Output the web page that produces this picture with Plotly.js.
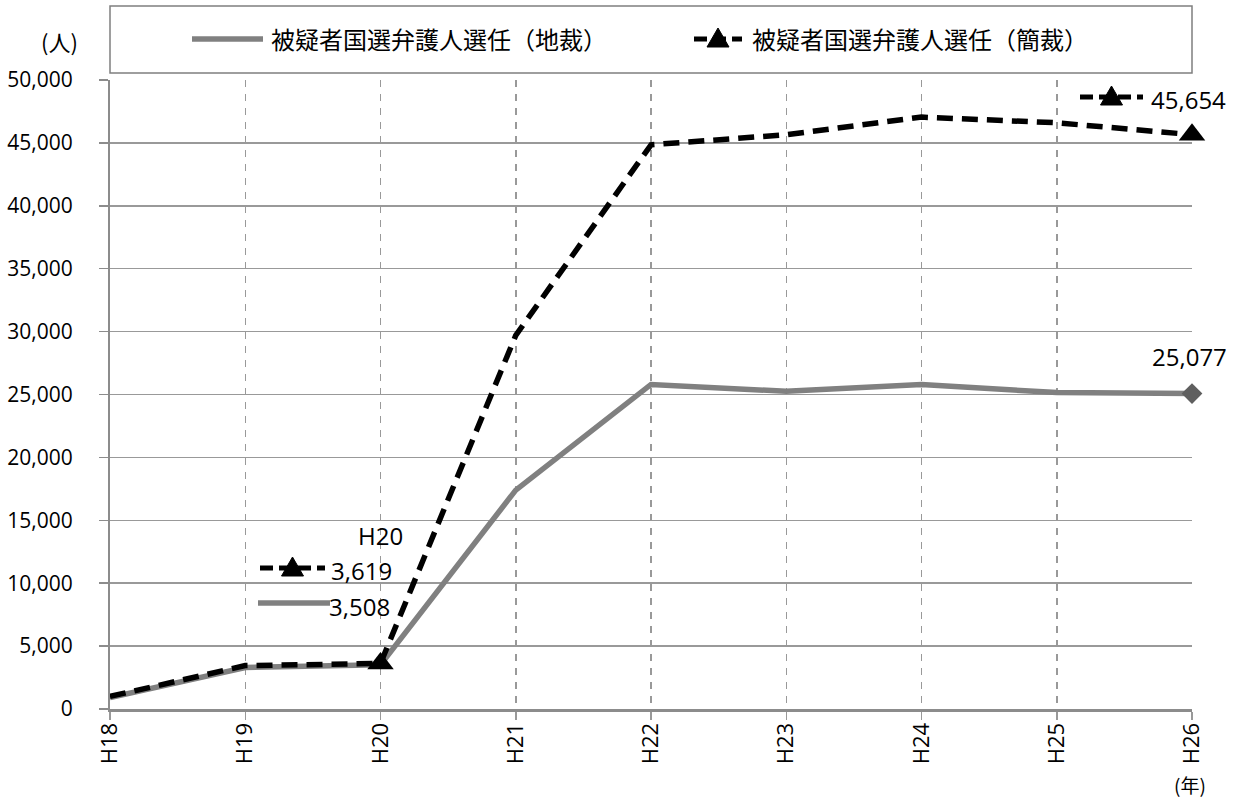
<!DOCTYPE html>
<html>
<head>
<meta charset="utf-8">
<script src="https://cdn.plot.ly/plotly-3.0.1.min.js"></script>
<style>html,body{margin:0;padding:0;background:#fff;}#chart{width:1240px;height:800px;}</style>
</head>
<body>
<div id="chart"></div>
<script>
// ---- data ----
const years = ['H18','H19','H20','H21','H22','H23','H24','H25','H26'];
const districtName = '被疑者国選弁護人選任（地裁）';
const summaryName = '被疑者国選弁護人選任（簡裁）';
const districtValues = [900, 3300, 3508, 17400, 25800, 25250, 25800, 25150, 25077];
const summaryValues = [1000, 3450, 3619, 29700, 44850, 45650, 47050, 46600, 45654];
const yTickValues = [0, 5000, 10000, 15000, 20000, 25000, 30000, 35000, 40000, 45000, 50000];
const yUnit = '(人)';
const xUnit = '(年)';

// ---- layout geometry ----
const W = 1240, H = 800;
const M = {l: 110, r: 48, t: 80, b: 91};
const PW = W - M.l - M.r, PH = H - M.t - M.b;
const px = v => (v - M.l) / PW;          // pixel x -> paper
const py = v => (H - M.b - v) / PH;      // pixel y -> paper

const fmt = v => v.toLocaleString('en-US');
const last = years.length - 1;
const h20 = years.indexOf('H20');
const districtMarked = [last];
const summaryMarked = [h20, last];

const GRAY = '#808080', BLACK = '#000000';
const numFont = {family: 'Open Sans, Noto Sans CJK JP, sans-serif', size: 21, color: '#000'};
const labelFont = {family: 'Open Sans, Noto Sans CJK JP, sans-serif', size: 24, color: '#000'};
const jpFont = {family: 'Noto Sans CJK JP, sans-serif', size: 24, color: '#000'};

const traces = [
  {
    x: years, y: districtValues, name: districtName, type: 'scatter', mode: 'lines',
    line: {color: GRAY, width: 5.5},
    cliponaxis: false, showlegend: false, hoverinfo: 'x+y'
  },
  {
    x: districtMarked.map(i => years[i]), y: districtMarked.map(i => districtValues[i]),
    name: districtName, type: 'scatter', mode: 'markers',
    marker: {symbol: 'diamond', color: '#5f5f5f', size: 16, opacity: 1, line: {width: 0}},
    cliponaxis: false, showlegend: false, hoverinfo: 'x+y'
  },
  {
    x: years, y: summaryValues, name: summaryName, type: 'scatter', mode: 'lines',
    line: {color: BLACK, width: 5.5, dash: '16px,9px'},
    cliponaxis: false, showlegend: false, hoverinfo: 'x+y'
  },
  {
    x: summaryMarked.map(i => years[i]), y: summaryMarked.map(i => summaryValues[i]),
    name: summaryName, type: 'scatter', mode: 'markers',
    marker: {symbol: 'triangle-up', color: BLACK, size: 23, opacity: 1, line: {width: 0}},
    cliponaxis: false, showlegend: false, hoverinfo: 'x+y'
  }
];

// helpers for legend-like keys
function dashKey(x0, x1, y) {
  return [
    {type: 'line', xref: 'paper', yref: 'paper', x0: px(x0), x1: px(x1), y0: py(y), y1: py(y),
     line: {color: BLACK, width: 5, dash: '13px,6px'}},
    {type: 'path', xref: 'paper', yref: 'paper', xsizemode: 'pixel', ysizemode: 'pixel',
     xanchor: px((x0 + x1) / 2), yanchor: py(y), path: 'M-11,-8 L11,-8 L0,11 Z',
     fillcolor: BLACK, line: {color: BLACK, width: 1}}
  ];
}
function solidKey(x0, x1, y) {
  return [{type: 'line', xref: 'paper', yref: 'paper', x0: px(x0), x1: px(x1), y0: py(y), y1: py(y),
           line: {color: GRAY, width: 5.5}}];
}

const shapes = [
  // legend box
  {type: 'rect', xref: 'paper', yref: 'paper', x0: px(110), x1: px(1192), y0: py(73), y1: py(6),
   line: {color: '#7f7f7f', width: 1.5}, fillcolor: 'rgba(0,0,0,0)'},
  ...solidKey(192, 263, 39),
  ...dashKey(694, 742, 39),
  // data-label keys
  ...dashKey(1080, 1143, 97),
  ...dashKey(260, 325, 568),
  ...solidKey(258, 330, 603)
];

const annotations = [
  {xref: 'paper', yref: 'paper', x: px(269), y: py(39), xanchor: 'left', yanchor: 'middle',
   text: districtName, showarrow: false, font: jpFont},
  {xref: 'paper', yref: 'paper', x: px(750), y: py(39), xanchor: 'left', yanchor: 'middle',
   text: summaryName, showarrow: false, font: jpFont},
  {xref: 'paper', yref: 'paper', x: px(59), y: py(41), xanchor: 'center', yanchor: 'middle',
   text: yUnit, showarrow: false, font: {family: 'Noto Sans CJK JP, sans-serif', size: 22, color: '#000'}},
  {xref: 'paper', yref: 'paper', x: px(1190), y: py(784), xanchor: 'center', yanchor: 'middle',
   text: xUnit, showarrow: false, font: {family: 'Noto Sans CJK JP, sans-serif', size: 19, color: '#000'}},
  // data labels
  {x: years[last], y: summaryValues[last], text: fmt(summaryValues[last]), showarrow: false,
   xanchor: 'left', yanchor: 'middle', xshift: -43, yshift: 35, font: labelFont},
  {x: years[last], y: districtValues[last], text: fmt(districtValues[last]), showarrow: false,
   xanchor: 'center', yanchor: 'middle', xshift: -3, yshift: 37, font: labelFont},
  {x: years[h20], y: summaryValues[h20], text: years[h20], showarrow: false,
   xanchor: 'center', yanchor: 'middle', xshift: 0, yshift: 128, font: labelFont},
  {x: years[h20], y: summaryValues[h20], text: fmt(summaryValues[h20]), showarrow: false,
   xanchor: 'left', yanchor: 'middle', xshift: -52, yshift: 93, font: labelFont},
  {x: years[h20], y: districtValues[h20], text: fmt(districtValues[h20]), showarrow: false,
   xanchor: 'left', yanchor: 'middle', xshift: -54, yshift: 58, font: labelFont}
];

const layout = {
  width: W, height: H,
  margin: M,
  paper_bgcolor: '#ffffff', plot_bgcolor: '#ffffff',
  showlegend: false,
  xaxis: {
    type: 'category', range: [0, last], tickvals: years, ticktext: years,
    tickangle: -90, ticks: 'outside', ticklen: 8, tickcolor: '#999', tickwidth: 1.5,
    showgrid: true, gridcolor: '#999', gridwidth: 1.5, griddash: '7px,7px',
    showline: true, linecolor: '#8c8c8c', linewidth: 3,
    tickfont: {family: 'Open Sans, sans-serif', size: 22, color: '#000'}, ticklabelstandoff: -6,
    zeroline: false, fixedrange: true
  },
  yaxis: {
    range: [0, 50000], tickvals: yTickValues, ticktext: yTickValues.map(fmt),
    ticks: 'outside', ticklen: 9, tickcolor: '#8c8c8c', tickwidth: 1.5,
    showgrid: true, gridcolor: '#999', gridwidth: 1.5,
    showline: true, linecolor: '#8c8c8c', linewidth: 2,
    tickfont: numFont, ticklabelstandoff: 22, zeroline: false, fixedrange: true
  },
  shapes: shapes,
  annotations: annotations
};

Plotly.newPlot('chart', traces, layout, {displayModeBar: false, staticPlot: true});
</script>
</body>
</html>
